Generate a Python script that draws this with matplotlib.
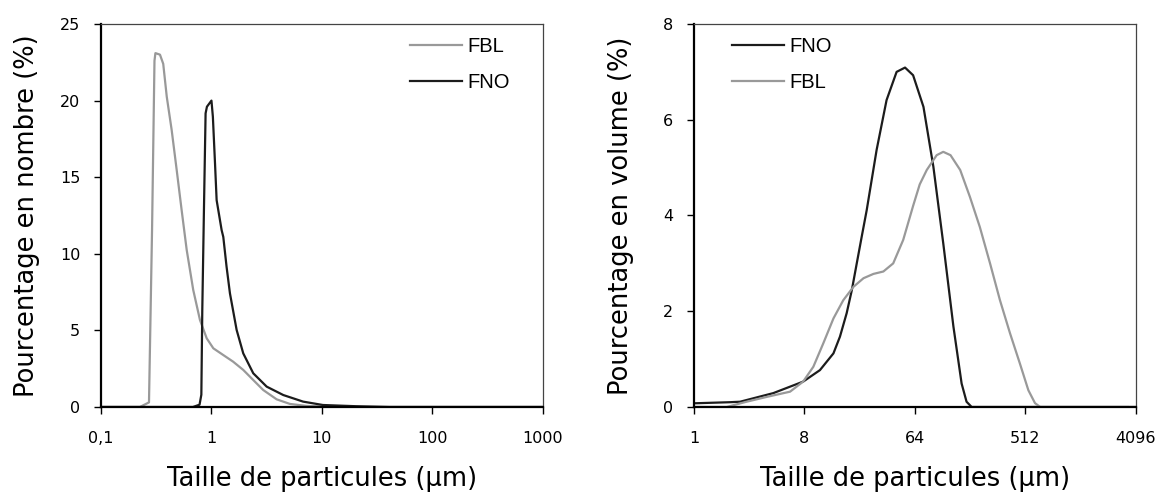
import matplotlib
matplotlib.use("Agg")
import matplotlib.pyplot as plt

# -------------------
# Data
# -------------------
# left panel: number distribution, size in µm
fbl_num_size = [0.1, 0.225, 0.272, 0.29, 0.305, 0.311, 0.342, 0.366, 0.394, 0.436,
                0.484, 0.537, 0.597, 0.684, 0.787, 0.906, 1.04, 1.28, 1.57, 1.94,
                2.39, 2.94, 3.89, 5.13, 7.24, 14.5, 1000]
fbl_num_pct = [0.0, 0.0, 0.3, 11.6, 22.6, 23.1, 23.0, 22.4, 20.25, 18.1,
               15.5, 12.86, 10.25, 7.64, 5.68, 4.48, 3.83, 3.39, 2.96, 2.42,
               1.76, 1.11, 0.50, 0.2, 0.07, 0.0, 0.0]

fno_num_size = [0.1, 0.68, 0.78, 0.81, 0.826, 0.855, 0.885, 0.91, 1.0, 1.03,
                1.077, 1.114, 1.236, 1.28, 1.37, 1.47, 1.69, 1.94, 2.39, 3.16,
                4.47, 6.76, 10.2, 20.4, 40.7, 1000]
fno_num_pct = [0.0, 0.0, 0.15, 0.8, 6.3, 12.86, 19.17, 19.6, 20.0, 18.95,
               15.9, 13.5, 11.55, 11.1, 9.16, 7.42, 5.03, 3.5, 2.2, 1.33,
               0.78, 0.35, 0.13, 0.05, 0.0, 0.0]

# right panel: volume distribution, size in µm
fno_vol_size = [1, 1.97, 2.38, 4.45, 7.8, 10.7, 13.8, 15.6, 17.7, 19.5,
                21.4, 23.5, 25.8, 31.1, 37.5, 45.3, 53.1, 61.8, 75.1, 90.5,
                109, 132, 154, 169, 186, 4096]
fno_vol_pct = [0.077, 0.1, 0.11, 0.29, 0.53, 0.77, 1.12, 1.47, 1.96, 2.44,
               3.0, 3.56, 4.11, 5.37, 6.41, 7.0, 7.09, 6.93, 6.27, 5.02,
               3.42, 1.68, 0.49, 0.11, 0.0, 0.0]

fbl_vol_size = [1, 1.85, 2.69, 3.92, 6.1, 7.8, 9.45, 11.4, 13.8, 16.6,
                20.1, 24.3, 29.3, 35.3, 42.5, 51.3, 61.8, 70.0, 79.9, 96.3,
                109, 125, 150, 180, 217, 263, 317, 383, 461, 541,
                613, 676, 3516]
fbl_vol_pct = [0.0, 0.0, 0.11, 0.21, 0.32, 0.53, 0.84, 1.33, 1.85, 2.23,
               2.51, 2.69, 2.78, 2.83, 3.0, 3.49, 4.2, 4.65, 4.95, 5.26,
               5.33, 5.26, 4.95, 4.39, 3.76, 3.0, 2.23, 1.54, 0.91, 0.35,
               0.08, 0.0, 0.0]

left_xticks = [0.1, 1, 10, 100, 1000]
left_xlabels = ["0,1", "1", "10", "100", "1000"]
left_yticks = [0, 5, 10, 15, 20, 25]
right_xticks = [1, 8, 64, 512, 4096]
right_xlabels = ["1", "8", "64", "512", "4096"]
right_yticks = [0, 2, 4, 6, 8]

GRAY = "#999999"
DARK = "#1c1c1c"


def style_axes(ax):
    for side in ["left", "bottom"]:
        ax.spines[side].set_linewidth(1.6)
        ax.spines[side].set_color("black")
    for side in ["top", "right"]:
        ax.spines[side].set_linewidth(0.9)
        ax.spines[side].set_color("#444444")
    ax.tick_params(axis="both", direction="out", length=5, width=1.0,
                   labelsize=11.5, colors="black")
    ax.tick_params(axis="x", pad=12)
    ax.tick_params(axis="y", pad=10)
    ax.minorticks_off()


def add_legend(ax, x, y):
    leg = ax.legend(loc="upper left", bbox_to_anchor=(x, y), frameon=False,
                    borderaxespad=0, borderpad=0, handlelength=2.6,
                    handletextpad=0.25, labelspacing=0.85,
                    prop={"family": "Liberation Sans", "size": 14.5})
    return leg


fig = plt.figure(figsize=(11.66, 4.95), dpi=100)

# -------------------
# Left: number
# -------------------
ax1 = fig.add_axes([0.0866, 0.1778, 0.379, 0.7737])
ax1.plot(fbl_num_size, fbl_num_pct, color=GRAY, lw=1.6, label="FBL")
ax1.plot(fno_num_size, fno_num_pct, color=DARK, lw=1.6, label="FNO")
ax1.set_xscale("log")
ax1.set_xlim(0.1, 1000)
ax1.set_ylim(0, 25)
ax1.set_xticks(left_xticks)
ax1.set_xticklabels(left_xlabels)
ax1.set_yticks(left_yticks)
style_axes(ax1)
ax1.set_xlabel("Taille de particules (µm)", fontsize=18.5, labelpad=15)
ax1.set_ylabel("Pourcentage en nombre (%)", fontsize=18.5, labelpad=14)
add_legend(ax1, 0.699, 0.966)

# -------------------
# Right: volume
# -------------------
ax2 = fig.add_axes([0.5952, 0.1778, 0.379, 0.7737])
ax2.plot(fno_vol_size, fno_vol_pct, color=DARK, lw=1.6, label="FNO")
ax2.plot(fbl_vol_size, fbl_vol_pct, color=GRAY, lw=1.6, label="FBL")
ax2.set_xscale("log", base=2)
ax2.set_xlim(1, 4096)
ax2.set_ylim(0, 8)
ax2.set_xticks(right_xticks)
ax2.set_xticklabels(right_xlabels)
ax2.set_yticks(right_yticks)
style_axes(ax2)
ax2.set_xlabel("Taille de particules (µm)", fontsize=18.5, labelpad=15)
ax2.set_ylabel("Pourcentage en volume (%)", fontsize=18.5, labelpad=21)
add_legend(ax2, 0.086, 0.966)

fig.savefig("out.png", dpi=100)
